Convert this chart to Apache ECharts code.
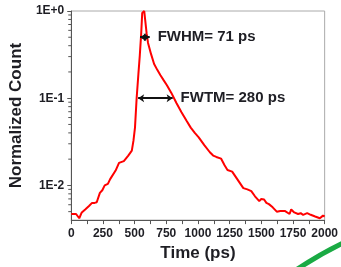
<!DOCTYPE html>
<html>
<head>
<meta charset="utf-8">
<script src="https://cdn.jsdelivr.net/npm/echarts@6/dist/echarts.min.js"></script>
<style>
  html, body { margin: 0; padding: 0; background: #fff; }
  #chart { width: 341px; height: 267px; }
</style>
</head>
<body>
<div id="chart"></div>
<script>
// --- DATEN ---
const timePs = [0, 20, 38, 50, 63, 83, 110, 140, 164, 185, 201, 226, 245, 264, 289, 307, 350, 377, 415, 450, 478, 491, 503, 516, 530, 541, 552, 560, 568, 576, 583, 595, 606, 630, 654, 680, 704, 730, 755, 790, 830, 870, 910, 943, 975, 1006, 1050, 1094, 1120, 1145, 1182, 1210, 1233, 1270, 1310, 1358, 1390, 1421, 1450, 1484, 1500, 1522, 1540, 1560, 1590, 1622, 1650, 1685, 1700, 1723, 1736, 1760, 1790, 1811, 1830, 1862, 1890, 1925, 1962, 1987, 2000];
const counts = [0.0047, 0.0047, 0.0047, 0.0045, 0.0042, 0.0049, 0.0053, 0.0058, 0.0063, 0.0063, 0.0064, 0.0082, 0.0088, 0.0100, 0.0104, 0.0118, 0.0148, 0.0181, 0.0190, 0.0220, 0.0250, 0.0326, 0.046, 0.10, 0.19, 0.31, 0.55, 0.95, 1.0, 1.0, 0.80, 0.55, 0.43, 0.32, 0.247, 0.21, 0.183, 0.16, 0.141, 0.115, 0.088, 0.069, 0.055, 0.046, 0.040, 0.0356, 0.029, 0.024, 0.022, 0.0212, 0.0203, 0.017, 0.015, 0.0144, 0.0118, 0.0093, 0.0090, 0.0086, 0.0075, 0.0066, 0.0070, 0.0069, 0.0063, 0.0061, 0.0056, 0.0050, 0.0051, 0.0051, 0.0049, 0.0047, 0.0053, 0.0049, 0.0047, 0.0048, 0.0046, 0.0048, 0.0046, 0.0044, 0.0042, 0.0045, 0.0044];
const logMinorTicks = [0.005, 0.006, 0.007, 0.008, 0.009, 0.02, 0.03, 0.04, 0.05, 0.06, 0.07, 0.08, 0.09, 0.2, 0.3, 0.4, 0.5, 0.6, 0.7, 0.8, 0.9];
const fwhm = { from: 543, to: 619, level: 0.5, text: 'FWHM= 71 ps' };
const fwtm = { from: 528, to: 800, level: 0.1, text: 'FWTM= 280 ps' };

const FONT = 'Liberation Sans, Arial, sans-serif';
const TEXT = '#1e1e24';

const chart = echarts.init(document.getElementById('chart'));

function expLabel(v) {
    const l = Math.log10(v);
    const e = Math.round(l);
    if (Math.abs(l - e) > 1e-6) return '';
    return '1E' + (e >= 0 ? '+' : '-') + Math.abs(e);
}

chart.setOption({
    animation: false,
    backgroundColor: '#fff',
    grid: { left: 70, right: 6, top: 11, bottom: 44, show: true, borderColor: '#aaa', borderWidth: 1 },
    xAxis: {
        type: 'value',
        min: 0, max: 2000, interval: 250,
        name: 'Time (ps)', nameLocation: 'middle', nameGap: 22,
        nameTextStyle: { fontFamily: FONT, fontWeight: 'bold', fontSize: 17, color: TEXT },
        axisLine: { show: true, lineStyle: { color: '#555', width: 1 } },
        axisTick: { show: true, length: 4, lineStyle: { color: '#555' } },
        minorTick: { show: true, splitNumber: 2, length: 4, lineStyle: { color: '#555' } },
        splitLine: { show: false },
        axisLabel: {
            fontFamily: FONT, fontWeight: 'bold', fontSize: 12, color: TEXT, margin: 8,
            alignMaxLabel: 'center', formatter: v => String(v)
        }
    },
    yAxis: {
        type: 'log', logBase: 10,
        min: 0.004, max: 1,
        name: 'Normalized Count', nameLocation: 'middle', nameGap: 38,
        nameTextStyle: { fontFamily: FONT, fontWeight: 'bold', fontSize: 17, color: TEXT },
        axisLine: { show: true, lineStyle: { color: '#555', width: 1 } },
        axisTick: { show: true, length: 4, lineStyle: { color: '#555' } },
        splitLine: { show: false },
        axisLabel: { fontFamily: FONT, fontWeight: 'bold', fontSize: 12, color: TEXT, margin: 7, showMinLabel: false, formatter: expLabel }
    },
    series: [
        {
            type: 'line',
            data: timePs.map((t, i) => [t, counts[i]]),
            showSymbol: false,
            lineStyle: { color: '#ff0000', width: 2 },
            markLine: {
                silent: true,
                symbol: ['arrow', 'arrow'],
                symbolSize: 6,
                lineStyle: { color: '#111', type: 'solid', width: 2 },
                label: { show: true, position: 'end', distance: 8, fontFamily: FONT, fontWeight: 'bold', fontSize: 15, color: TEXT },
                data: [fwhm, fwtm].map(a => [
                    { coord: [a.from, a.level], label: { formatter: a.text } },
                    { coord: [a.to, a.level] }
                ])
            }
        },
        {
            // log-verteilte Nebenstriche der Y-Achse
            type: 'custom',
            silent: true,
            clip: false,
            data: logMinorTicks.map(v => [0, v]),
            renderItem: function (params, api) {
                const p = api.coord([api.value(0), api.value(1)]);
                return {
                    type: 'line',
                    shape: { x1: p[0] - 3, y1: p[1], x2: p[0], y2: p[1] },
                    style: { stroke: '#555', lineWidth: 1 }
                };
            }
        }
    ],
    graphic: [{
        type: 'bezierCurve',
        silent: true,
        shape: { x1: 296, y1: 270, cpx1: 320, cpy1: 254, x2: 343, y2: 243 },
        style: { stroke: '#1aaa44', lineWidth: 5, fill: null }
    }]
});

window.addEventListener('resize', () => chart.resize());
</script>
</body>
</html>
